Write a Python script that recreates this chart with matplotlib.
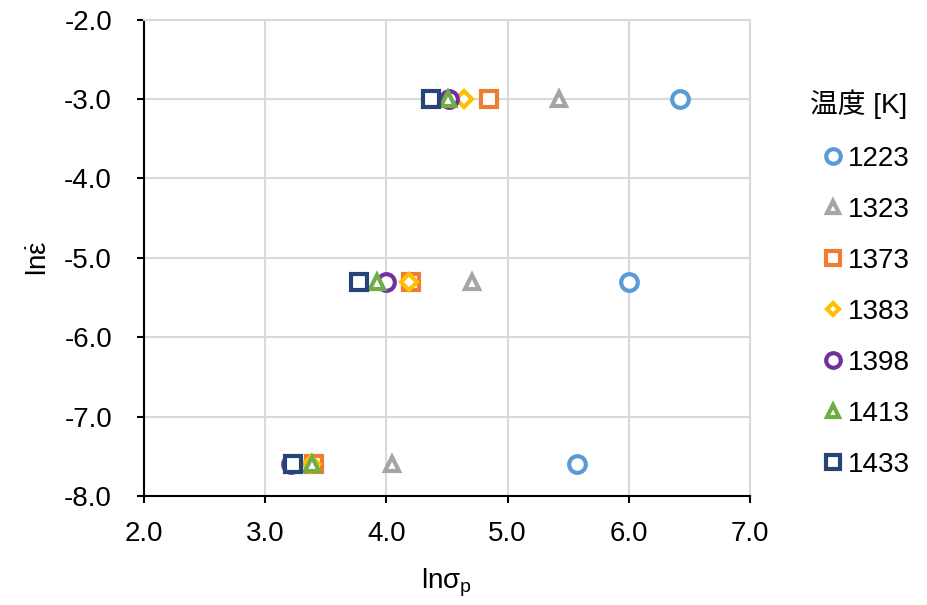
import numpy as np
import matplotlib
matplotlib.use("Agg")
import matplotlib.pyplot as plt

plt.rcParams['font.family'] = ['Liberation Sans', 'Noto Sans CJK JP', 'DejaVu Sans']
plt.rcParams['mathtext.fontset'] = 'custom'
plt.rcParams['mathtext.rm'] = 'Liberation Sans'
plt.rcParams['mathtext.it'] = 'Liberation Sans'

# data: ln(stress) for each temperature at three strain rates
temps = ['1223', '1323', '1373', '1383', '1398', '1413', '1433']
ln_rate = [-3.0, -5.3, -7.6]
ln_sigma = {
    '1223': [6.42, 6.00, 5.57],
    '1323': [5.42, 4.71, 4.05],
    '1373': [4.85, 4.20, 3.40],
    '1383': [4.64, 4.19, 3.38],
    '1398': [4.52, 4.00, 3.21],
    '1413': [4.51, 3.92, 3.39],
    '1433': [4.37, 3.77, 3.23],
}
colors = ['#5B9BD5', '#A5A5A5', '#ED7D31', '#FFC000', '#7030A0', '#70AD47', '#264478']
markers = ['o', '^', 's', 'D', 'o', '^', 's']
sizes = [12, 10, 12, 8, 12, 10, 12]
leg_sizes = [10.5, 8.5, 10.5, 6.5, 10.5, 8.5, 10.5]

fig = plt.figure(figsize=(9.28, 6.05), dpi=100)
ax = fig.add_axes([144/928, 1-496/605, (750-144)/928, (496-19.6)/605])

for i, t in enumerate(temps):
    ax.plot(ln_sigma[t], ln_rate, linestyle='none', marker=markers[i], ms=sizes[i],
            mfc='white', mec=colors[i], mew=3, label=t, zorder=3 + i)

ax.set_xlim(2.0, 7.0)
ax.set_ylim(-8.0, -2.0)
ax.set_xticks(np.arange(2.0, 7.01, 1.0))
ax.set_yticks(np.arange(-8.0, -1.99, 1.0))
ax.xaxis.set_major_formatter(matplotlib.ticker.FormatStrFormatter('%.1f'))
ax.yaxis.set_major_formatter(matplotlib.ticker.FormatStrFormatter('%.1f'))
ax.tick_params(labelsize=20, length=5, width=1.5, direction='out')
ax.tick_params(axis='y', pad=18)
ax.tick_params(axis='x', pad=13)
ax.grid(True, color='#D9D9D9', lw=1.5, zorder=0)
ax.set_axisbelow(True)
for s in ['top', 'right']:
    ax.spines[s].set_color('#D9D9D9')
    ax.spines[s].set_linewidth(1.5)
for s in ['left', 'bottom']:
    ax.spines[s].set_linewidth(1.5)

ax.set_xlabel(r'ln$\mathregular{\sigma_p}$', fontsize=20, labelpad=14)
ax.set_ylabel(r'ln$\mathregular{\dot{\varepsilon}}$', fontsize=20, labelpad=8)

fig.text(810/928, 1-104/605, '温度 [K]', fontsize=20, ha='left', va='center')
leg = fig.legend(loc='upper left', bbox_to_anchor=(808/928, 1-132/605), frameon=False,
                 fontsize=20, handlelength=0.8, handletextpad=0.13,
                 labelspacing=0.9, borderpad=0)
for h, s in zip(leg.legend_handles, leg_sizes):
    h.set_markersize(s)
    h.set_markeredgewidth(3)

fig.savefig('out.png', dpi=100)
